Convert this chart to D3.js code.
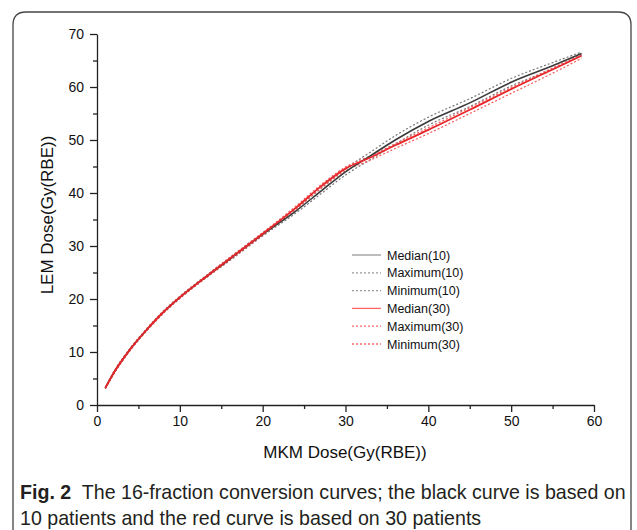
<!DOCTYPE html>
<html>
<head>
<meta charset="utf-8">
<script src="https://cdn.jsdelivr.net/npm/d3@7"></script>
<style>
  body { margin: 0; background: #fff; }
  text { font-family: "Liberation Sans", Arial, sans-serif; }
</style>
</head>
<body>
<div class="chart"></div>
<script>
// MKM dose points (x) shared by all curves
const mkm = [1, 2, 4, 6, 8, 10, 13, 16, 20, 24, 27, 30, 33, 36, 40, 45, 50, 55, 58.5];

// 10 patients (black)
const median10 = [3.2, 6.0, 10.5, 14.2, 17.5, 20.3, 24.0, 27.5, 32.2, 36.6, 40.3, 44.0, 47.0, 50.0, 53.5, 57.0, 60.9, 64.0, 66.3];
const maximum10 = [3.3, 6.2, 10.7, 14.4, 17.7, 20.5, 24.2, 27.8, 32.5, 37.0, 40.8, 44.6, 47.7, 50.8, 54.3, 57.8, 61.6, 64.6, 66.6];
const minimum10 = [3.1, 5.8, 10.3, 14.0, 17.3, 20.1, 23.8, 27.2, 31.9, 36.2, 39.8, 43.4, 46.3, 49.2, 52.8, 56.3, 60.2, 63.4, 66.0];

// 30 patients (red)
const median30 = [3.2, 6.0, 10.5, 14.2, 17.5, 20.3, 24.0, 27.6, 32.3, 37.2, 41.2, 44.6, 46.7, 49.0, 51.9, 55.7, 59.6, 63.3, 65.9];
const maximum30 = [3.3, 6.2, 10.7, 14.4, 17.7, 20.5, 24.2, 27.8, 32.5, 37.5, 41.5, 44.9, 47.0, 49.3, 52.3, 56.1, 59.9, 63.6, 66.2];
const minimum30 = [3.1, 5.8, 10.3, 14.0, 17.3, 20.1, 23.8, 27.3, 32.0, 36.9, 40.8, 44.2, 46.2, 48.4, 51.2, 55.0, 58.8, 62.6, 65.4];

const xTicks = [0, 10, 20, 30, 40, 50, 60];
const yTicks = [0, 10, 20, 30, 40, 50, 60, 70];
const seriesNames = ["Median(10)", "Maximum(10)", "Minimum(10)", "Median(30)", "Maximum(30)", "Minimum(30)"];

const width = 637, height = 530;

const svg = d3.select(".chart")
  .append("svg")
  .attr("width", width)
  .attr("height", height);

svg.append("rect").attr("width", width).attr("height", height).attr("fill", "#fff");

// figure frame, rounded at the top, open at the bottom
svg.append("path")
  .attr("d", "M13,540 L13,25 Q13,12 26,12 L618,12 Q631,12 631,25 L631,540")
  .attr("fill", "none")
  .attr("stroke", "#444")
  .attr("stroke-width", 1.3);

const x = d3.scaleLinear().domain([0, 60]).range([97, 594]);
const y = d3.scaleLinear().domain([0, 70]).range([405, 34]);

// minor ticks
svg.append("g")
  .attr("transform", "translate(0,405)")
  .call(d3.axisBottom(x).tickValues(d3.range(5, 60, 10)).tickSize(4).tickFormat(""))
  .call(g => g.select(".domain").remove());
svg.append("g")
  .attr("transform", "translate(97,0)")
  .call(d3.axisLeft(y).tickValues(d3.range(5, 70, 10)).tickSize(4).tickFormat(""))
  .call(g => g.select(".domain").remove());

const xAxis = svg.append("g")
  .attr("transform", "translate(0,405)")
  .call(d3.axisBottom(x).tickValues(xTicks).tickSize(7).tickSizeOuter(0).tickPadding(4));
const yAxis = svg.append("g")
  .attr("transform", "translate(97,0)")
  .call(d3.axisLeft(y).tickValues(yTicks).tickSize(7).tickSizeOuter(0).tickPadding(6));

[xAxis, yAxis].forEach(g => {
  g.selectAll("text").style("font-size", "14px").attr("fill", "#111").style("font-family", "Liberation Sans, Arial, sans-serif");
  g.selectAll("line, path").attr("stroke", "#222").attr("stroke-width", 1.3);
});
svg.selectAll("g line").attr("stroke", "#222").attr("stroke-width", 1.3);

svg.append("text")
  .attr("x", 345)
  .attr("y", 458)
  .attr("text-anchor", "middle")
  .style("font-size", "17px")
  .attr("fill", "#111")
  .text("MKM Dose(Gy(RBE))");

svg.append("text")
  .attr("transform", "translate(53,215) rotate(-90)")
  .attr("text-anchor", "middle")
  .style("font-size", "17px")
  .attr("fill", "#111")
  .text("LEM Dose(Gy(RBE))");

// curves
const series = [
  { name: seriesNames[1], values: maximum10, color: "#777", dash: "2,2", w: 1.2 },
  { name: seriesNames[2], values: minimum10, color: "#777", dash: "2,2", w: 1.2 },
  { name: seriesNames[4], values: maximum30, color: "#f45a5a", dash: "2,2", w: 1.2 },
  { name: seriesNames[5], values: minimum30, color: "#f45a5a", dash: "2,2", w: 1.2 },
  { name: seriesNames[0], values: median10, color: "#3a3a3a", dash: null, w: 1.6 },
  { name: seriesNames[3], values: median30, color: "#e8262a", dash: null, w: 1.8 }
];

const line = d3.line()
  .x(d => x(d[0]))
  .y(d => y(d[1]))
  .curve(d3.curveMonotoneX);

svg.selectAll(".curve")
  .data(series)
  .enter()
  .append("path")
  .attr("class", "curve")
  .attr("d", d => line(mkm.map((m, i) => [m, d.values[i]])))
  .attr("fill", "none")
  .attr("stroke", d => d.color)
  .attr("stroke-width", d => d.w)
  .attr("stroke-dasharray", d => d.dash);

// legend
const legendStyle = [
  { color: "#999", dash: null },
  { color: "#999", dash: "2,2" },
  { color: "#999", dash: "2,2" },
  { color: "#f66", dash: null },
  { color: "#f66", dash: "2,2" },
  { color: "#f66", dash: "2,2" }
];

const legend = svg.append("g").attr("transform", "translate(352,255)");
seriesNames.forEach((name, i) => {
  const row = legend.append("g").attr("transform", `translate(0,${i * 17.8})`);
  row.append("line")
    .attr("x1", 0).attr("x2", 29)
    .attr("y1", 0).attr("y2", 0)
    .attr("stroke", legendStyle[i].color)
    .attr("stroke-width", 1.3)
    .attr("stroke-dasharray", legendStyle[i].dash);
  row.append("text")
    .attr("x", 35)
    .attr("y", 4.5)
    .style("font-size", "12.5px")
    .attr("fill", "#111")
    .text(name);
});

// caption
const cap = svg.append("g").style("font-family", "'Open Sans', 'Noto Sans', sans-serif").attr("fill", "#231f20");
const line1 = cap.append("text").attr("x", 20).attr("y", 499).style("font-size", "17px");
line1.append("tspan").style("font-weight", "bold").text("Fig. 2");
line1.append("tspan").text("\u00a0 The 16-fraction conversion curves; the black curve is based on");
const line2 = cap.append("text").attr("x", 20).attr("y", 525).style("font-size", "17px")
  .text("10 patients and the red curve is based on 30 patients");

// fit the caption to the width it takes in the figure
const target = 606;
const w1 = line1.node().getComputedTextLength();
const fs = 17 * target / w1;
line1.style("font-size", fs + "px");
line2.style("font-size", fs + "px");
</script>
</body>
</html>
